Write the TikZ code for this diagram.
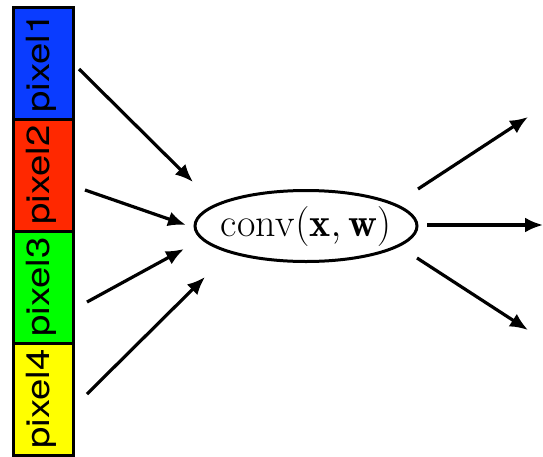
\RequirePackage{fix-cm}
\documentclass[tikz,border=0pt]{standalone}
\usepackage{amsmath}
\usepackage{fontspec}
\usepackage{tikz}
\usetikzlibrary{shapes.geometric,arrows.meta,positioning}

\newfontfamily\pixfont[FakeStretch=1.2]{TeX Gyre Heros}

\definecolor{pixblue}{RGB}{10,60,255}
\definecolor{pixred}{RGB}{255,40,0}
\definecolor{pixgreen}{RGB}{0,255,0}
\definecolor{pixyellow}{RGB}{255,255,0}

\tikzset{
  pixcell/.style={draw, line width=3pt, rotate=90, inner sep=0pt,
    minimum width=112pt, minimum height=60pt,
    text height=12pt, text depth=0pt,
    font=\pixfont\fontsize{32}{34}\selectfont},
  convbox/.style={ellipse, draw, line width=3pt,
    minimum width=222pt, minimum height=71pt, inner sep=0pt},
  flow/.style={line width=3.2pt, -{Latex[length=18pt,width=15pt]}}
}

\begin{document}
\begin{tikzpicture}[x=1pt,y=-1pt]
\useasboundingbox (0,0) rectangle (543,456);

% input column
\node[pixcell, fill=pixblue]   (p1) at (43,63)  {pixel1};
\node[pixcell, fill=pixred]    (p2) at (43,175) {pixel2};
\node[pixcell, fill=pixgreen]  (p3) at (43,287) {pixel3};
\node[pixcell, fill=pixyellow] (p4) at (43,399) {pixel4};

% the unit
\node[convbox] (conv) at (306,226) {};
\node[font=\fontsize{40}{44}\selectfont] (convtext) at (conv)
  {$\mathrm{conv}(\mathbf{x}, \mathbf{w})$};

% arrow ends
\coordinate (a1) at (79,69);   \coordinate (b1) at (193,182);
\coordinate (a2) at (85,190);  \coordinate (b2) at (186,225);
\coordinate (a3) at (87,302);  \coordinate (b3) at (184,249);
\coordinate (a4) at (87,394);  \coordinate (b4) at (205,277);

\coordinate (c1) at (418,189); \coordinate (d1) at (528,117);
\coordinate (c2) at (427,225); \coordinate (d2) at (543,225);
\coordinate (c3) at (417,258); \coordinate (d3) at (528,330);

\draw[flow] (a1) -- (b1);
\draw[flow] (a2) -- (b2);
\draw[flow] (a3) -- (b3);
\draw[flow] (a4) -- (b4);

\draw[flow] (c1) -- (d1);
\draw[flow] (c2) -- (d2);
\draw[flow] (c3) -- (d3);
\end{tikzpicture}
\end{document}
